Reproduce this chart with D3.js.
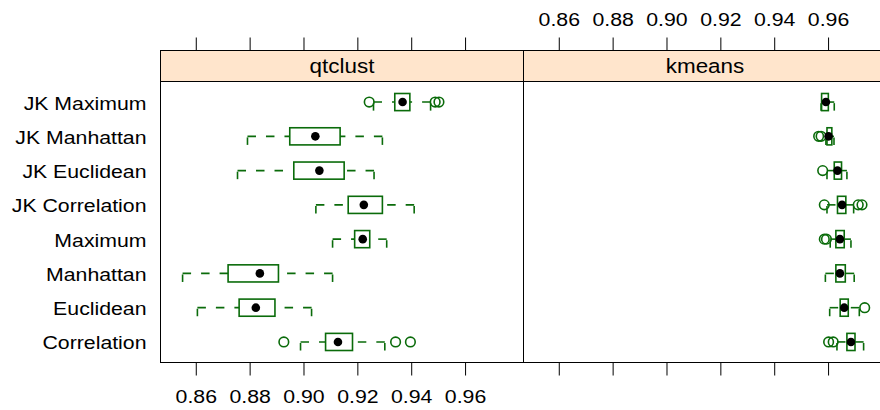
<!DOCTYPE html>
<html>
<head>
<meta charset="utf-8">
<script src="https://cdn.jsdelivr.net/npm/d3@7"></script>
<style>
  body { margin: 0; background: #fff; }
  text { font-family: "Liberation Sans", Arial, Helvetica, sans-serif; fill: #000; }
</style>
</head>
<body>
<svg id="chart" width="880" height="410"></svg>
<script>
// Distance measures, listed from the bottom row to the top row
const methods = ["Correlation", "Euclidean", "Manhattan", "Maximum",
                 "JK Correlation", "JK Euclidean", "JK Manhattan", "JK Maximum"];
const panelNames = ["qtclust", "kmeans"];
const tickValues = [0.86, 0.88, 0.90, 0.92, 0.94, 0.96];

// qtclust: whisker ends, hinges, medians and outlying points per row
const qtLower   = [0.8989, 0.8606, 0.8551, 0.9108, 0.9046, 0.8755, 0.8792, 0.9260];
const qtQ1      = [0.9082, 0.8761, 0.8720, 0.9190, 0.9166, 0.8964, 0.8949, 0.9339];
const qtMedian  = [0.9128, 0.8823, 0.8838, 0.9220, 0.9224, 0.9059, 0.9044, 0.9368];
const qtQ3      = [0.9182, 0.8894, 0.8907, 0.9246, 0.9293, 0.9151, 0.9136, 0.9395];
const qtUpper   = [0.9302, 0.9030, 0.9108, 0.9309, 0.9411, 0.9262, 0.9293, 0.9472];
const qtOutliers = [[0.8927, 0.9342, 0.9397], [], [], [], [], [], [], [0.9244, 0.9489, 0.9503]];

// kmeans: same statistics
const kmLower   = [0.9633, 0.9606, 0.9590, 0.9608, 0.9596, 0.9596, 0.9592, 0.9574];
const kmQ1      = [0.9670, 0.9645, 0.9629, 0.9629, 0.9635, 0.9623, 0.9596, 0.9576];
const kmMedian  = [0.9685, 0.9660, 0.9644, 0.9644, 0.9652, 0.9635, 0.9602, 0.9592];
const kmQ3      = [0.9700, 0.9675, 0.9664, 0.9660, 0.9666, 0.9650, 0.9614, 0.9601];
const kmUpper   = [0.9732, 0.9716, 0.9697, 0.9685, 0.9695, 0.9670, 0.9622, 0.9623];
const kmOutliers = [[0.9602, 0.9619], [0.9736], [], [0.9586, 0.9594],
                    [0.9586, 0.9712, 0.9726], [0.9580], [0.9565, 0.9574], []];

const panelStats = [
  { lower: qtLower, q1: qtQ1, median: qtMedian, q3: qtQ3, upper: qtUpper, out: qtOutliers },
  { lower: kmLower, q1: kmQ1, median: kmMedian, q3: kmQ3, upper: kmUpper, out: kmOutliers }
];

// ---- layout ----
const svg = d3.select("#chart");
const panelW = 363;
const panelLefts = [160.5, 523.5];
const stripTop = 50.5, stripBottom = 81.5, panelBottom = 362.5;
const boxColor = "#0a6b0a";
const fontSize = 18.5;
const stripFontSize = 19.5;
const stretch = 1.15;

const y = d3.scaleLinear().domain([0.4, methods.length + 0.6]).range([panelBottom, stripBottom]);
const boxH = y(0) - y(0.5);

function stretchText(sel) {
  sel.attr("transform", function () {
    const t = d3.select(this).attr("transform");
    return (t ? t + " " : "") + `scale(${stretch},1)`;
  });
}

// row labels
const rowLabels = svg.append("g");
methods.forEach((m, i) => {
  rowLabels.append("g")
    .attr("transform", `translate(146.5,${y(i + 1) + 7.5}) scale(${stretch},1)`)
    .append("text")
    .attr("text-anchor", "end")
    .style("font-size", fontSize + "px")
    .text(m);
});

panelNames.forEach((name, p) => {
  const x0 = panelLefts[p];
  const x = d3.scaleLinear().domain([0.8469, 0.9817]).range([x0, x0 + panelW]);
  const st = panelStats[p];
  const g = svg.append("g");

  // strip
  g.append("rect")
    .attr("x", x0).attr("y", stripTop)
    .attr("width", panelW).attr("height", stripBottom - stripTop)
    .attr("fill", "#ffe5cc").attr("stroke", "#000").attr("stroke-width", 1);
  g.append("g")
    .attr("transform", `translate(${x0 + panelW / 2},${(stripTop + stripBottom) / 2 + 7}) scale(${stretch},1)`)
    .append("text")
    .attr("text-anchor", "middle")
    .style("font-size", stripFontSize + "px")
    .text(name);

  // panel frame
  g.append("rect")
    .attr("x", x0).attr("y", stripBottom)
    .attr("width", panelW).attr("height", panelBottom - stripBottom)
    .attr("fill", "none").attr("stroke", "#000").attr("stroke-width", 1);

  // axes: labels alternate between top (right panel) and bottom (left panel)
  const top = d3.axisTop(x).tickValues(tickValues).tickSize(13).tickPadding(11.5)
    .tickFormat(p === 1 ? d3.format(".2f") : () => "");
  const bottom = d3.axisBottom(x).tickValues(tickValues).tickSize(13).tickPadding(14)
    .tickFormat(p === 0 ? d3.format(".2f") : () => "");
  [[top, stripTop], [bottom, panelBottom]].forEach(([ax, yy]) => {
    const a = g.append("g").attr("transform", `translate(0,${yy})`).call(ax);
    a.select(".domain").remove();
    a.selectAll(".tick line").attr("stroke", "#000");
    a.selectAll(".tick text")
      .style("font-size", fontSize + "px")
      .call(stretchText);
    a.attr("font-family", null).attr("font-size", null);
  });

  // boxes and whiskers
  methods.forEach((m, i) => {
    const yc = y(i + 1);
    const row = g.append("g");
    // whiskers, drawn from their ends toward the box
    [[st.lower[i], st.q1[i]], [st.upper[i], st.q3[i]]].forEach(([end, hinge]) => {
      row.append("line")
        .attr("x1", x(end)).attr("y1", yc).attr("x2", x(hinge)).attr("y2", yc)
        .attr("stroke", boxColor).attr("stroke-width", 1.6).attr("stroke-dasharray", "8.5,10");
      row.append("line")
        .attr("x1", x(end)).attr("y1", yc + boxH / 2).attr("x2", x(end)).attr("y2", yc - boxH / 2)
        .attr("stroke", boxColor).attr("stroke-width", 1.6).attr("stroke-dasharray", "7.5,10");
    });
    row.append("rect")
      .attr("x", x(st.q1[i])).attr("y", yc - boxH / 2)
      .attr("width", x(st.q3[i]) - x(st.q1[i])).attr("height", boxH)
      .attr("fill", "none").attr("stroke", boxColor).attr("stroke-width", 1.6);
    st.out[i].forEach(v => {
      row.append("circle")
        .attr("cx", x(v)).attr("cy", yc).attr("r", 4.8)
        .attr("fill", "none").attr("stroke", boxColor).attr("stroke-width", 1.6);
    });
    row.append("circle")
      .attr("cx", x(st.median[i])).attr("cy", yc).attr("r", 4.3)
      .attr("fill", "#000");
  });
});
</script>
</body>
</html>
